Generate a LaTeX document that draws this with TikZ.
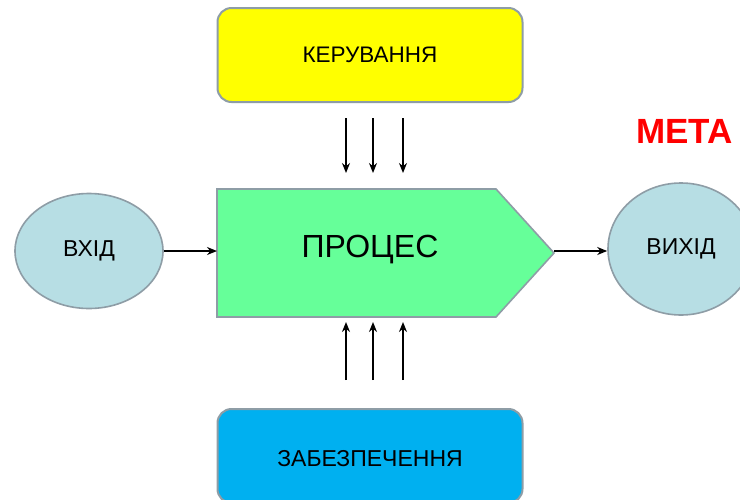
\documentclass[tikz,border=0pt]{standalone}
\usepackage{fontspec}
\setmainfont{Liberation Sans}
\usetikzlibrary{shapes.geometric,arrows.meta}
\definecolor{edgegray}{HTML}{8E9DA6}
\definecolor{boxyellow}{HTML}{FFFF00}
\definecolor{procgreen}{HTML}{66FF99}
\definecolor{ovalblue}{HTML}{B7DEE4}
\definecolor{boxblue}{HTML}{00B0F0}
\definecolor{metared}{HTML}{FF0000}
\tikzset{
  rbox/.style={draw=edgegray, line width=2pt, rounded corners=14pt, inner sep=0pt,
    minimum width=305pt, minimum height=94pt, font=\fontsize{22.5}{26}\selectfont},
  oval/.style={ellipse, draw=edgegray, line width=1.6pt, fill=ovalblue, inner sep=0pt,
    font=\fontsize{23}{27}\selectfont},
  flow/.style={line width=1.8pt, -{Stealth[length=10pt,width=8pt]}},
  procshape/.style={draw=edgegray, line width=1.6pt, fill=procgreen}
}
\begin{document}
\begin{tikzpicture}[x=1pt,y=-1pt]
\useasboundingbox (0,0) rectangle (740,499);
\fill[white] (0,0) rectangle (740,499);
% control box
\node[rbox, fill=boxyellow] (ker) at (370,55) {КЕРУВАННЯ};
% support box
\node[rbox, fill=boxblue, anchor=north] (zab) at (370,408) {};
\node[font=\fontsize{23}{27}\selectfont] (zabt) at (370,459) {ЗАБЕЗПЕЧЕННЯ};
% process
\draw[procshape] (217,189) -- (496,189) -- (554,253) -- (496,317) -- (217,317) -- cycle;
\coordinate (procW) at (217,251);
\coordinate (procE) at (554,251);
\node[font=\fontsize{32}{36}\selectfont] (proc) at (370,250) {ПРОЦЕС};
% input / output
\node[oval, minimum width=148pt, minimum height=115pt] (vhid) at (89,251) {ВХІД};
\node[oval, minimum width=146pt, minimum height=132pt] (vyhid) at (681,249) {ВИХІД};
% goal
\node[anchor=west, inner sep=0pt, text=metared, font=\bfseries\fontsize{35}{40}\selectfont] (meta) at (636,131) {МЕТА};
% arrows
\draw[flow] (vhid.east |- procW) -- (procW);
\draw[flow] (procE) -- (vyhid.west |- procE);
\foreach \i/\x in {1/346,2/373,3/403}{
  \coordinate (d\i s) at (\x,118);
  \coordinate (d\i e) at (\x,173);
  \coordinate (u\i s) at (\x,380);
  \coordinate (u\i e) at (\x,322);
  \draw[flow] (d\i s) -- (d\i e);
  \draw[flow] (u\i s) -- (u\i e);
}
\end{tikzpicture}
\end{document}
